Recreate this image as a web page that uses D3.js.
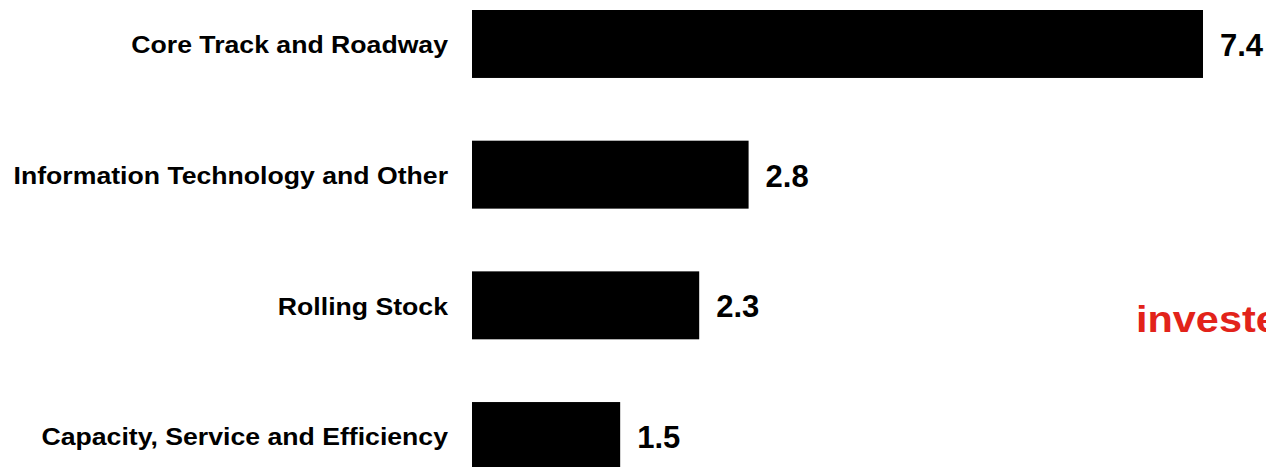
<!DOCTYPE html>
<html>
<head>
<meta charset="utf-8">
<script src="https://cdn.jsdelivr.net/npm/d3@7"></script>
<style>
  html, body { margin: 0; padding: 0; background: #fff; overflow: hidden; }
  svg { display: block; }
</style>
</head>
<body>
<svg id="chart" width="1266" height="467"></svg>
<script>
// Spending by category (values in billions)
const categories = [
  "Core Track and Roadway",
  "Information Technology and Other",
  "Rolling Stock",
  "Capacity, Service and Efficiency"
];
const values = [7.4, 2.8, 2.3, 1.5];
const valueLabels = ["7.4", "2.8", "2.3", "1.5"];
const sideNote = "invested";

const svg = d3.select("#chart");
const font = "'Liberation Sans', Arial, Helvetica, sans-serif";

const x = d3.scaleLinear().domain([0, 7.4]).range([472, 1203]);
const y = d3.scaleBand().domain(categories).range([10, 470]).paddingInner(0.48).paddingOuter(0);

const rows = categories.map((c, i) => ({ cat: c, value: values[i], label: valueLabels[i] }));

svg.selectAll("rect.bar")
  .data(rows)
  .join("rect")
  .attr("class", "bar")
  .attr("x", x(0))
  .attr("y", d => y(d.cat))
  .attr("width", d => x(d.value) - x(0))
  .attr("height", y.bandwidth())
  .attr("fill", "#000");

// Category labels, right-aligned against the bars (slightly widened type)
const labelX = 448;
svg.append("g")
  .attr("transform", `translate(${labelX},0) scale(1.11,1)`)
  .selectAll("text.cat")
  .data(rows)
  .join("text")
  .attr("class", "cat")
  .attr("x", 0)
  .attr("y", d => y(d.cat) + y.bandwidth() / 2 + 1)
  .attr("dy", "0.35em")
  .attr("text-anchor", "end")
  .attr("font-family", font)
  .attr("font-weight", "bold")
  .attr("font-size", 24)
  .attr("fill", "#000")
  .text(d => d.cat);

// Value labels at the end of each bar
svg.selectAll("text.val")
  .data(rows)
  .join("text")
  .attr("class", "val")
  .attr("x", d => x(d.value) + 17)
  .attr("y", d => y(d.cat) + y.bandwidth() / 2 + 1)
  .attr("dy", "0.35em")
  .attr("font-family", font)
  .attr("font-weight", "bold")
  .attr("font-size", 31)
  .attr("fill", "#000")
  .text(d => d.label);

svg.append("text")
  .attr("transform", "translate(1136,332) scale(1.12,1)")
  .attr("font-family", font)
  .attr("font-weight", "bold")
  .attr("font-size", 37)
  .attr("fill", "#e2231a")
  .text(sideNote);
</script>
</body>
</html>
